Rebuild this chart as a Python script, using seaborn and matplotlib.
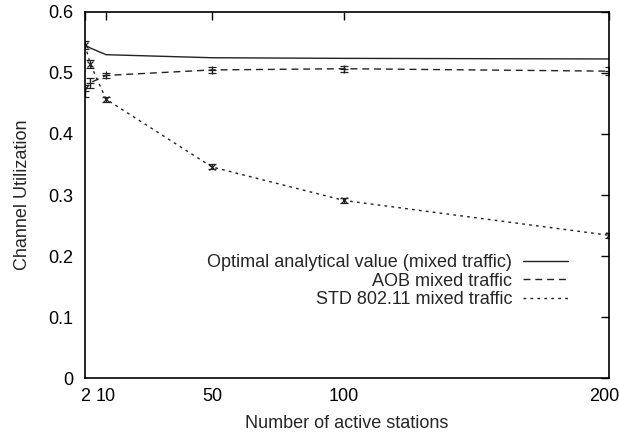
import matplotlib
matplotlib.use("Agg")
import matplotlib.pyplot as plt
import matplotlib.transforms as mtransforms
import seaborn as sns
import pandas as pd

stations = [2, 4, 10, 50, 100, 200]
optimal = [0.546, 0.541, 0.530, 0.525, 0.524, 0.523]
aob = [0.471, 0.484, 0.496, 0.505, 0.507, 0.503]
aob_err = [0.010, 0.008, 0.004, 0.005, 0.005, 0.007]
std = [0.546, 0.515, 0.457, 0.346, 0.291, 0.234]
std_err = [0.007, 0.006, 0.004, 0.004, 0.004, 0.004]

xticks = [2, 10, 50, 100, 200]
yticks = [0, 0.1, 0.2, 0.3, 0.4, 0.5, 0.6]
yticklabels = ["0", "0.1", "0.2", "0.3", "0.4", "0.5", "0.6"]

labels = ["Optimal analytical value (mixed traffic)", "AOB mixed traffic", "STD 802.11 mixed traffic"]

sns.set_style("white")
plt.rcParams['font.family'] = ['Liberation Sans', 'DejaVu Sans']
FS = 13

fig = plt.figure(figsize=(6.2, 4.36), dpi=100)
ax = fig.add_axes([0.137, 0.133, 0.845, 0.8395])

df = pd.DataFrame({"x": stations, "opt": optimal, "aob": aob, "std": std})

sns.lineplot(data=df, x="x", y="opt", ax=ax, color="#222222", lw=1.0, linestyle="-", label=labels[0])
sns.lineplot(data=df, x="x", y="aob", ax=ax, color="#222222", lw=1.0, linestyle=(0, (5, 3.5)), label=labels[1])
sns.lineplot(data=df, x="x", y="std", ax=ax, color="#222222", lw=1.0, linestyle=(0, (2, 3)), label=labels[2])

ax.errorbar(stations, aob, yerr=aob_err, fmt="+", color="#222222", ms=6, mew=0.9,
            elinewidth=0.9, capsize=3, capthick=0.9)
ax.errorbar(stations, std, yerr=std_err, fmt="x", color="#222222", ms=5, mew=0.9,
            elinewidth=0.9, capsize=3, capthick=0.9)

ax.set_xlim(2, 200)
ax.set_ylim(0, 0.6)
ax.set_xticks(xticks)
ax.set_xticklabels([str(t) for t in xticks])
ax.set_yticks(yticks)
ax.set_yticklabels(yticklabels)
ax.tick_params(direction="in", length=6, width=1, top=True, right=True, labelsize=FS, colors="black")
ax.tick_params(axis="y", pad=8.5)
ax.tick_params(axis="x", pad=7.5)
for s in ax.spines.values():
    s.set_visible(True)
    s.set_color("black")
    s.set_linewidth(1.2)

# keep the last x tick label inside the canvas
last = ax.get_xticklabels()[-1]
last.set_transform(last.get_transform() + mtransforms.ScaledTranslation(-5 / 100, 0, fig.dpi_scale_trans))

ax.set_xlabel("Number of active stations", fontsize=FS, labelpad=7)
ax.set_ylabel("Channel Utilization", fontsize=FS, labelpad=12)

leg = ax.legend(loc="center right", bbox_to_anchor=(0.922, 0.265), markerfirst=False, frameon=False,
                fontsize=FS, handlelength=2.5, labelspacing=0.08, handletextpad=0.6,
                borderpad=0, borderaxespad=0)

fig.savefig("out.png", dpi=100)
